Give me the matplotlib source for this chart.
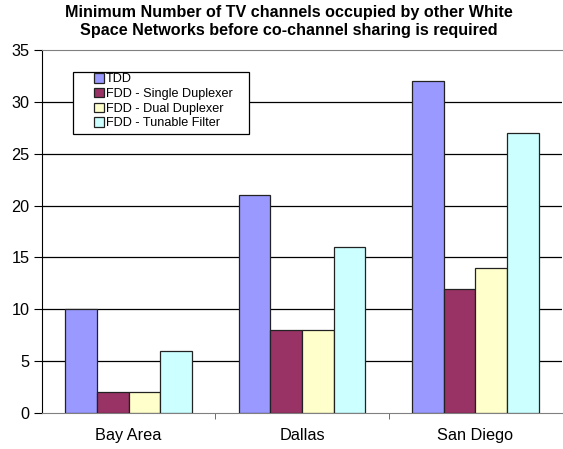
import matplotlib
matplotlib.use("Agg")
import matplotlib.pyplot as plt
from matplotlib.patches import Rectangle
import numpy as np

plt.rcParams['font.family'] = ['Liberation Sans', 'DejaVu Sans']

categories = ["Bay Area", "Dallas", "San Diego"]
series_names = ["TDD", "FDD - Single Duplexer", "FDD - Dual Duplexer", "FDD - Tunable Filter"]
tdd = [10, 21, 32]
fdd_single = [2, 8, 12]
fdd_dual = [2, 8, 14]
fdd_tunable = [6, 16, 27]
colors = ["#9999FF", "#993366", "#FFFFCC", "#CCFFFF"]
title = "Minimum Number of TV channels occupied by other White\nSpace Networks before co-channel sharing is required"

W, H = 563, 449
fig = plt.figure(figsize=(W/100, H/100), dpi=100)
ax = fig.add_axes([42/W, 1-413/H, 520/W, 363/H])

x = np.arange(len(categories))
group = 0.73
w = group / 4
for i, (vals, name, c) in enumerate(zip([tdd, fdd_single, fdd_dual, fdd_tunable], series_names, colors)):
    ax.bar(x - group/2 + w*(i+0.5), vals, width=w, color=c, edgecolor="#222222", linewidth=0.9, label=name, zorder=3)

ax.set_xlim(-0.5, 2.5)
ax.set_ylim(0, 35)
ax.set_yticks(range(0, 36, 5))
ax.set_xticks(x)
ax.set_xticklabels(categories, fontsize=11.7)
ax.set_xticks([0.5, 1.5], minor=True)
ax.tick_params(axis='x', which='major', length=0, pad=11)
ax.tick_params(axis='x', which='minor', length=4, color="#555555", direction='out')
ax.tick_params(axis='y', length=6, labelsize=11.7, direction='out', pad=3)
for yv in range(5, 35, 5):
    ax.axhline(yv, color="black", linewidth=0.9, zorder=1)
ax.spines['top'].set_color("#808080")
ax.spines['right'].set_visible(False)
ax.spines['bottom'].set_color("#808080")
ax.spines['left'].set_color("black")

fig.text(288.5/W, 1-21.5/H, title, ha='center', va='center', fontsize=11.6, fontweight='bold', linespacing=1.2)

# legend frame
frame = Rectangle((73/W, 1-134/H), 176/W, 62/H, transform=fig.transFigure,
                  facecolor="white", edgecolor="black", linewidth=0.9, zorder=4)
ax.add_artist(frame)
frame.set_clip_on(False)

leg = ax.legend(loc='upper left', bbox_to_anchor=(94/W, 1-73/H), bbox_transform=fig.transFigure,
                fontsize=9.1, frameon=False, handlelength=0.8, handleheight=0.8,
                handletextpad=0.15, borderpad=0, labelspacing=0.2, borderaxespad=0)
leg.set_zorder(5)

fig.savefig("out.png", dpi=100)
